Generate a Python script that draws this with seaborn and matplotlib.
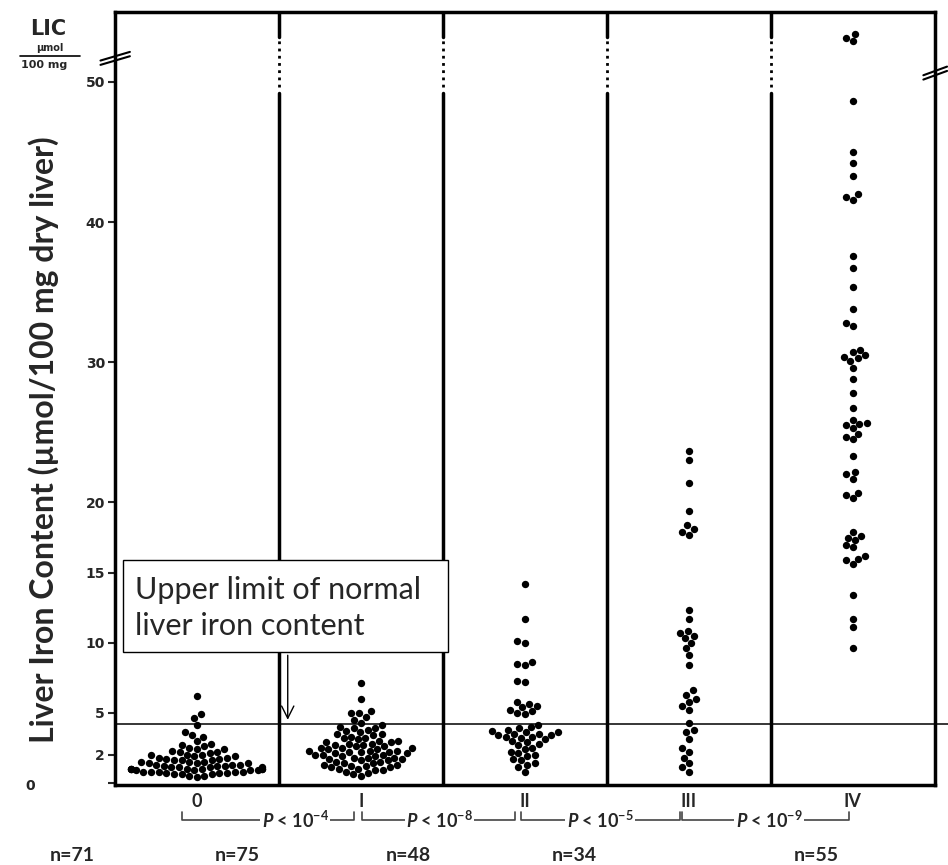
import numpy as np
import matplotlib.pyplot as plt
import seaborn as sns
import pandas as pd
from matplotlib.lines import Line2D
from matplotlib.patches import Rectangle
import matplotlib.transforms as mtransforms

# liver iron content (umol/100 mg dry liver)
groups = ["0", "I", "II", "III", "IV"]
lic_0 = [6.2, 4.9, 4.6, 4.1, 3.6, 3.4, 3.3, 3.0, 2.8, 2.7,
         2.6, 2.5, 2.4, 2.4, 2.3, 2.2, 2.2, 2.1, 2.0, 2.0,
         2.0, 1.9, 1.9, 1.8, 1.8, 1.7, 1.7, 1.6, 1.6, 1.6,
         1.5, 1.5, 1.5, 1.4, 1.4, 1.4, 1.3, 1.3, 1.3, 1.2,
         1.2, 1.2, 1.1, 1.1, 1.1, 1.1, 1.0, 1.0, 1.0, 1.0,
         1.0, 1.0, 1.0, 0.9, 0.9, 0.9, 0.9, 0.8, 0.8, 0.8,
         0.8, 0.8, 0.7, 0.7, 0.7, 0.6, 0.6, 0.6, 0.5, 0.5, 0.4]
lic_1 = [7.1, 6.0, 5.1, 5.0, 5.0, 4.7, 4.5, 4.3, 4.1, 4.0,
         3.9, 3.9, 3.8, 3.7, 3.6, 3.5, 3.5, 3.4, 3.3, 3.2,
         3.2, 3.1, 3.0, 3.0, 2.9, 2.9, 2.8, 2.8, 2.7, 2.7,
         2.6, 2.6, 2.5, 2.5, 2.5, 2.4, 2.4, 2.3, 2.3, 2.3,
         2.2, 2.2, 2.2, 2.1, 2.1, 2.0, 2.0, 2.0, 1.9, 1.9,
         1.8, 1.8, 1.8, 1.7, 1.7, 1.6, 1.6, 1.5, 1.5, 1.4,
         1.4, 1.3, 1.3, 1.2, 1.2, 1.1, 1.1, 1.0, 1.0, 0.9,
         0.9, 0.8, 0.7, 0.6, 0.5]
lic_2 = [14.2, 11.7, 10.1, 10.0, 8.6, 8.5, 8.4, 7.3, 7.2, 5.8,
         5.6, 5.5, 5.4, 5.2, 5.1, 5.0, 4.9, 4.1, 4.0, 3.9,
         3.8, 3.7, 3.6, 3.6, 3.5, 3.5, 3.4, 3.4, 3.3, 3.3,
         3.2, 3.1, 3.0, 2.9, 2.8, 2.7, 2.5, 2.4, 2.2, 2.1,
         2.0, 1.9, 1.7, 1.6, 1.4, 1.3, 1.1, 0.8]
lic_3 = [23.7, 23.0, 21.4, 19.4, 18.4, 18.1, 17.9, 17.7, 12.3, 11.7,
         10.8, 10.7, 10.5, 10.3, 10.0, 9.6, 9.1, 8.4, 6.6, 6.3,
         6.0, 5.8, 5.5, 5.2, 4.3, 3.8, 3.6, 3.1, 2.5, 2.2,
         1.8, 1.4, 1.1, 0.8]
lic_4 = [53.4, 53.1, 52.9, 48.6, 45.0, 44.2, 43.3, 42.0, 41.8, 41.6,
         37.6, 36.7, 35.4, 33.8, 32.8, 32.6, 30.9, 30.7, 30.5, 30.4,
         30.3, 30.1, 29.6, 28.8, 27.8, 26.7, 25.9, 25.7, 25.6, 25.5,
         25.3, 24.9, 24.7, 24.5, 23.3, 22.2, 22.0, 21.7, 20.7, 20.5,
         20.3, 17.9, 17.6, 17.5, 17.3, 17.0, 16.8, 16.2, 16.0, 15.9,
         15.6, 13.4, 11.7, 11.1, 9.6]
upper_normal = 4.2
y_ticks = [0, 2, 5, 10, 15, 20, 30, 40, 50]
n_labels = ["n=71", "n=75", "n=48", "n=34", "n=55"]
p_exps = ["-4", "-8", "-5", "-9"]

all_vals = [lic_0, lic_1, lic_2, lic_3, lic_4]
df = pd.DataFrame({
    "group": np.repeat(groups, [len(v) for v in all_vals]),
    "lic": np.concatenate(all_vals),
})

sns.set_style("white")
plt.rcParams["font.family"] = ["Lato", "DejaVu Sans"]
plt.rcParams["mathtext.fontset"] = "custom"
plt.rcParams["mathtext.rm"] = "Lato:bold"
plt.rcParams["mathtext.it"] = "Lato:italic:bold"

fig = plt.figure(figsize=(9.48, 8.65), dpi=100)
ax = fig.add_axes([0.121, 0.0925, 0.865, 0.894])

sns.swarmplot(data=df, x="group", y="lic", order=groups, color="black",
              size=5.3, ax=ax, warn_thresh=1)

ax.set_xlim(-0.5, 4.5)
ax.set_ylim(-0.15, 55)
for s in ax.spines.values():
    s.set_linewidth(2.5)
    s.set_color("black")

# category dividers (broken near the top like the original)
for xd in [0.5, 1.5, 2.5, 3.5]:
    ax.plot([xd, xd], [-0.15, 49.2], color="black", lw=2.5)
    ax.plot([xd, xd], [49.6, 53.0], color="black", lw=2, ls=(0, (1, 1.6)))
    ax.plot([xd, xd], [53.2, 55], color="black", lw=2.5)

# upper limit of normal
ax.axhline(upper_normal, xmin=0, xmax=1.016, color="black", lw=1.1, clip_on=False)
ax.add_patch(Rectangle((0.01, 0.172), 0.396, 0.119, transform=ax.transAxes,
                       facecolor="white", edgecolor="black", lw=1, zorder=5))
ax.text(0.025, 0.229, "Upper limit of normal\nliver iron content", transform=ax.transAxes,
        fontsize=22, va="center", ha="left", linespacing=1.35, zorder=6)
ax.annotate("", xy=(0.555, upper_normal + 0.1), xytext=(0.555, 9.3),
            arrowprops=dict(arrowstyle="->", lw=1, color="black", mutation_scale=22))

# ticks
ax.set_yticks(y_ticks)
ax.set_yticklabels([str(t) for t in y_ticks], fontsize=10, fontweight="bold",
                   family="DejaVu Sans")
ax.tick_params(axis="y", direction="out", length=5, width=1.5, left=True, pad=2)
ax.tick_params(axis="x", length=0, pad=6)
ax.set_xticks(range(len(groups)))
ax.set_xticklabels(groups, fontsize=13, fontweight="bold")
ax.set_xlabel("")
ax.set_ylabel("Liver Iron Content (µmol/100 mg dry liver)", fontsize=23, fontweight="bold")
ax.yaxis.set_label_coords(-0.068, 0.446)

zero_lab = ax.get_yticklabels()[0]
zero_lab.set_transform(zero_lab.get_transform() +
                       mtransforms.ScaledTranslation(-0.7, -0.02, fig.dpi_scale_trans))

# p-value brackets between neighbouring groups
tr = ax.get_xaxis_transform()
br_start = [-0.09, 1.01, 1.98, 2.96]
br_end = [0.96, 1.94, 2.945, 3.98]
br_text = [0.6, 1.48, 2.46, 3.49]
for x0, x1, xt, e in zip(br_start, br_end, br_text, p_exps):
    ax.add_line(Line2D([x0, x0, x1, x1], [-0.035, -0.0453, -0.0453, -0.035], transform=tr,
                       color="#444444", lw=1.2, clip_on=False))
    ax.text(xt, -0.0453, r"$\mathit{P}$ < 10$^{%s}$" % e, transform=tr, ha="center",
            va="center", fontsize=13, fontweight="bold",
            bbox=dict(facecolor="white", edgecolor="none", pad=1))

n_x = [-0.76, 0.25, 1.29, 2.30, 3.78]
for xn, lab in zip(n_x, n_labels):
    ax.text(xn, -0.0906, lab, transform=tr, ha="center", va="center",
            fontsize=14, fontweight="bold", clip_on=False)

# LIC unit header and axis-break marks
fig.text(0.051, 0.966, "LIC", fontsize=15, fontweight="heavy", family="DejaVu Sans",
         ha="center", va="center")
fig.text(0.053, 0.944, "µmol", fontsize=7, fontweight="bold", family="DejaVu Sans",
         ha="center", va="center")
fig.add_artist(Line2D([0.021, 0.084], [0.935, 0.935], color="black", lw=1.2,
                      transform=fig.transFigure))
fig.text(0.047, 0.925, "100 mg", fontsize=8, fontweight="bold", family="DejaVu Sans",
         ha="center", va="center")
for dy in [0, 0.005]:
    fig.add_artist(Line2D([0.106, 0.137], [0.930 - dy, 0.940 - dy], color="black", lw=1.5,
                          transform=fig.transFigure))
    fig.add_artist(Line2D([0.974, 0.999], [0.913 - dy, 0.923 - dy], color="black", lw=1.5,
                          transform=fig.transFigure))

fig.savefig("out.png", dpi=100, facecolor="white")
